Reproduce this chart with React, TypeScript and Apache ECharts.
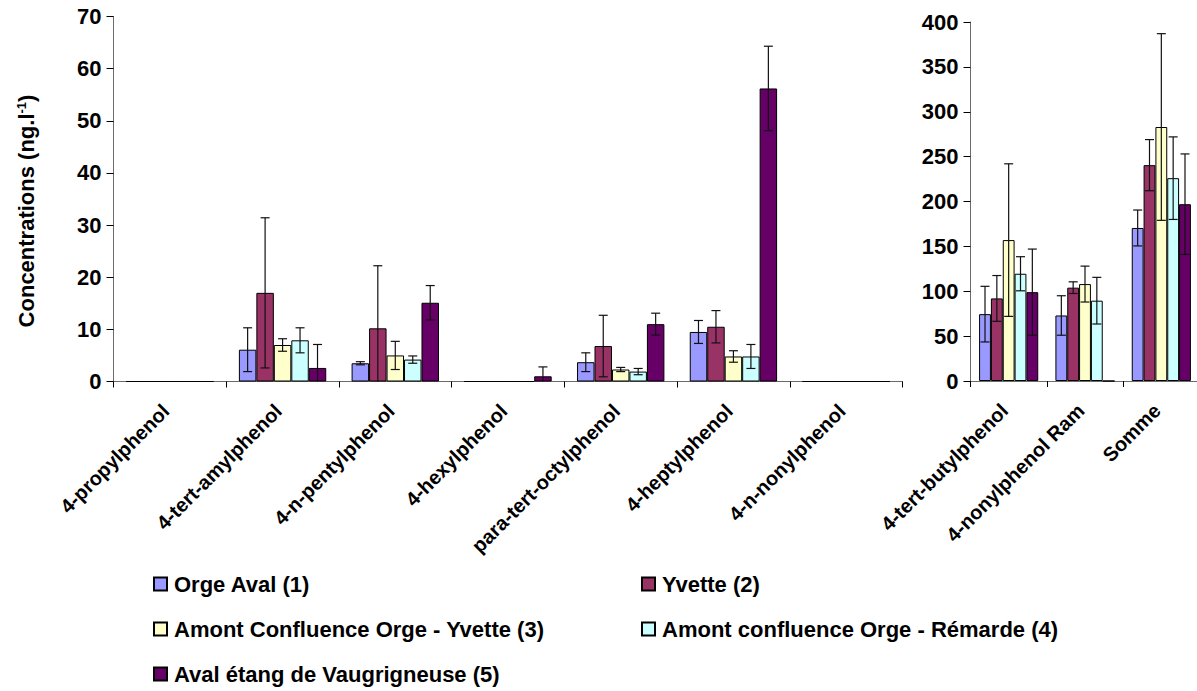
import React, { useEffect, useRef } from "react";
import * as echarts from "echarts";

// Compounds shown against the 0–70 ng/l scale
const leftCategories = [
  "4-propylphenol",
  "4-tert-amylphenol",
  "4-n-pentylphenol",
  "4-hexylphenol",
  "para-tert-octylphenol",
  "4-heptylphenol",
  "4-n-nonylphenol",
];
// Compounds and total shown against the 0–400 ng/l scale
const rightCategories = ["4-tert-butylphenol", "4-nonylphenol Ram", "Somme"];

const seriesNames = [
  "Orge Aval (1)",
  "Yvette (2)",
  "Amont Confluence Orge - Yvette (3)",
  "Amont confluence Orge - Rémarde (4)",
  "Aval étang de Vaugrigneuse (5)",
];
const seriesColors = ["#9999FF", "#993366", "#FFFFCC", "#CCFFFF", "#660066"];

// Mean concentrations (left panel)
const orgeAvalLeft = [0, 6.1, 3.5, 0, 3.7, 9.5, 0];
const yvetteLeft = [0, 17.0, 10.2, 0, 6.8, 10.5, 0];
const amontYvetteLeft = [0, 7.0, 5.0, 0, 2.3, 4.8, 0];
const amontRemardeLeft = [0, 7.9, 4.2, 0, 1.9, 4.8, 0];
const avalVaugLeft = [0, 2.6, 15.1, 1.0, 11.0, 56.2, 0];

// Standard deviations (left panel)
const orgeAvalLeftErr = [0, 4.2, 0.3, 0, 1.8, 2.2, 0];
const yvetteLeftErr = [0, 14.4, 12.0, 0, 5.9, 3.1, 0];
const amontYvetteLeftErr = [0, 1.2, 2.7, 0, 0.4, 1.1, 0];
const amontRemardeLeftErr = [0, 2.4, 0.7, 0, 0.6, 2.3, 0];
const avalVaugLeftErr = [0, 4.5, 3.3, 1.8, 2.1, 8.1, 0];

// Mean concentrations (right panel)
const orgeAvalRight = [74.5, 73, 170.5];
const yvetteRight = [92, 104, 240.5];
const amontYvetteRight = [157, 108, 283];
const amontRemardeRight = [119.5, 89.5, 226];
const avalVaugRight = [99, 0, 197];

// Standard deviations (right panel)
const orgeAvalRightErr = [31, 22, 20];
const yvetteRightErr = [25.5, 6.5, 28.5];
const amontYvetteRightErr = [85, 20, 104];
const amontRemardeRightErr = [19, 26, 46];
const avalVaugRightErr = [48, 0, 56];

const leftTicks = { min: 0, max: 70, interval: 10 };
const rightTicks = { min: 0, max: 400, interval: 50 };

const leftValues = [orgeAvalLeft, yvetteLeft, amontYvetteLeft, amontRemardeLeft, avalVaugLeft];
const leftErrors = [orgeAvalLeftErr, yvetteLeftErr, amontYvetteLeftErr, amontRemardeLeftErr, avalVaugLeftErr];
const rightValues = [orgeAvalRight, yvetteRight, amontYvetteRight, amontRemardeRight, avalVaugRight];
const rightErrors = [orgeAvalRightErr, yvetteRightErr, amontYvetteRightErr, amontRemardeRightErr, avalVaugRightErr];

const FONT = "'Liberation Sans', Arial, Helvetica, sans-serif";
const CATEGORY_GAP = 0.225;
const N = seriesNames.length;

function errorData(values: number[][], errors: number[][]) {
  const out: number[][] = [];
  values.forEach((row, s) => {
    row.forEach((v, c) => {
      const e = errors[s][c];
      if (v > 0 && e > 0) out.push([c, s, v, e]);
    });
  });
  return out;
}

function renderError(_params: any, api: any) {
  const cat = api.value(0);
  const s = api.value(1);
  const v = api.value(2);
  const e = api.value(3);
  const band = api.size([1, 0])[0];
  const bw = (band * (1 - CATEGORY_GAP)) / N;
  const center = api.coord([cat, v]);
  const x = center[0] + (s - (N - 1) / 2) * bw;
  const yTop = api.coord([cat, v + e])[1];
  const low = v - e;
  const yBot = api.coord([cat, Math.max(0, low)])[1];
  const cap = 4.5;
  const style = { stroke: "#111", lineWidth: 1.2 };
  const children: any[] = [
    { type: "line", shape: { x1: x, y1: yTop, x2: x, y2: yBot }, style },
    { type: "line", shape: { x1: x - cap, y1: yTop, x2: x + cap, y2: yTop }, style },
  ];
  if (low > 0) {
    children.push({ type: "line", shape: { x1: x - cap, y1: yBot, x2: x + cap, y2: yBot }, style });
  }
  return { type: "group", children };
}

const axisLineStyle = { color: "#6b6b6b", width: 1 };

function xAxisFor(gridIndex: number, data: string[]) {
  return {
    type: "category",
    gridIndex,
    data,
    axisLine: { show: true, lineStyle: axisLineStyle },
    axisTick: { show: true, length: 6, lineStyle: { color: "#000" } },
    axisLabel: {
      interval: 0,
      rotate: 45,
      margin: 22,
      padding: [0, 6, 0, 0],
      color: "#000",
      fontFamily: FONT,
      fontWeight: "bold",
      fontSize: 20,
    },
    splitLine: { show: false },
  };
}

function yAxisFor(gridIndex: number, ticks: { min: number; max: number; interval: number }) {
  return {
    type: "value",
    gridIndex,
    min: ticks.min,
    max: ticks.max,
    interval: ticks.interval,
    axisLine: { show: true, lineStyle: axisLineStyle },
    axisTick: { show: true, length: 7, lineStyle: { color: "#000" } },
    axisLabel: {
      margin: 12,
      color: "#000",
      fontFamily: FONT,
      fontWeight: "bold",
      fontSize: 22,
    },
    splitLine: { show: false },
  };
}

function barSeries(values: number[][], axisIndex: number) {
  return values.map((data, s) => ({
    name: seriesNames[s],
    type: "bar",
    xAxisIndex: axisIndex,
    yAxisIndex: axisIndex,
    data,
    barGap: "0%",
    barCategoryGap: `${CATEGORY_GAP * 100}%`,
    itemStyle: { color: seriesColors[s], borderColor: "#000", borderWidth: 1 },
    emphasis: { disabled: true },
  }));
}

const legendPositions = [
  { left: 153, top: 573 },
  { left: 641, top: 573 },
  { left: 153, top: 618 },
  { left: 641, top: 618 },
  { left: 153, top: 663 },
];

export default function App() {
  const ref = useRef<HTMLDivElement>(null);

  useEffect(() => {
    document.body.style.margin = "0";
    if (!ref.current) return;
    const chart = echarts.init(ref.current, undefined, { renderer: "svg" });

    const option: any = {
      animation: false,
      backgroundColor: "#fff",
      grid: [
        { left: 113.5, top: 16.5, width: 789, height: 365, containLabel: false, outerBoundsMode: "none" },
        { left: 970.5, top: 22, width: 229, height: 359, containLabel: false, outerBoundsMode: "none" },
      ],
      xAxis: [xAxisFor(0, leftCategories), xAxisFor(1, rightCategories)],
      yAxis: [yAxisFor(0, leftTicks), yAxisFor(1, rightTicks)],
      legend: seriesNames.map((name, i) => ({
        data: [name],
        left: legendPositions[i].left,
        top: legendPositions[i].top,
        padding: 0,
        icon: "rect",
        itemWidth: 13,
        itemHeight: 13,
        selectedMode: false,
        textStyle: {
          color: "#000",
          fontFamily: FONT,
          fontWeight: "bold",
          fontSize: 22,
          padding: [0, 0, 0, 2],
        },
      })),
      series: [
        ...barSeries(leftValues, 0),
        ...barSeries(rightValues, 1),
        {
          type: "custom",
          xAxisIndex: 0,
          yAxisIndex: 0,
          data: errorData(leftValues, leftErrors),
          encode: { x: 0, y: 2 },
          renderItem: renderError,
          z: 10,
          silent: true,
        },
        {
          type: "custom",
          xAxisIndex: 1,
          yAxisIndex: 1,
          data: errorData(rightValues, rightErrors),
          encode: { x: 0, y: 2 },
          renderItem: renderError,
          z: 10,
          silent: true,
        },
      ],
      graphic: [
        {
          type: "text",
          x: 26,
          y: 211,
          rotation: Math.PI / 2,
          style: {
            text: "Concentrations (ng.l{sup|-1})",
            fill: "#000",
            fontFamily: FONT,
            fontWeight: "bold",
            fontSize: 22,
            align: "center",
            verticalAlign: "middle",
            rich: {
              sup: {
                fontFamily: FONT,
                fontWeight: "bold",
                fontSize: 13,
                verticalAlign: "top",
                lineHeight: 22,
                padding: [0, 0, 9, 0],
              },
            },
          },
        },
      ],
    };

    chart.setOption(option);
    return () => chart.dispose();
  }, []);

  return <div ref={ref} style={{ width: 1197, height: 691 }} />;
}
